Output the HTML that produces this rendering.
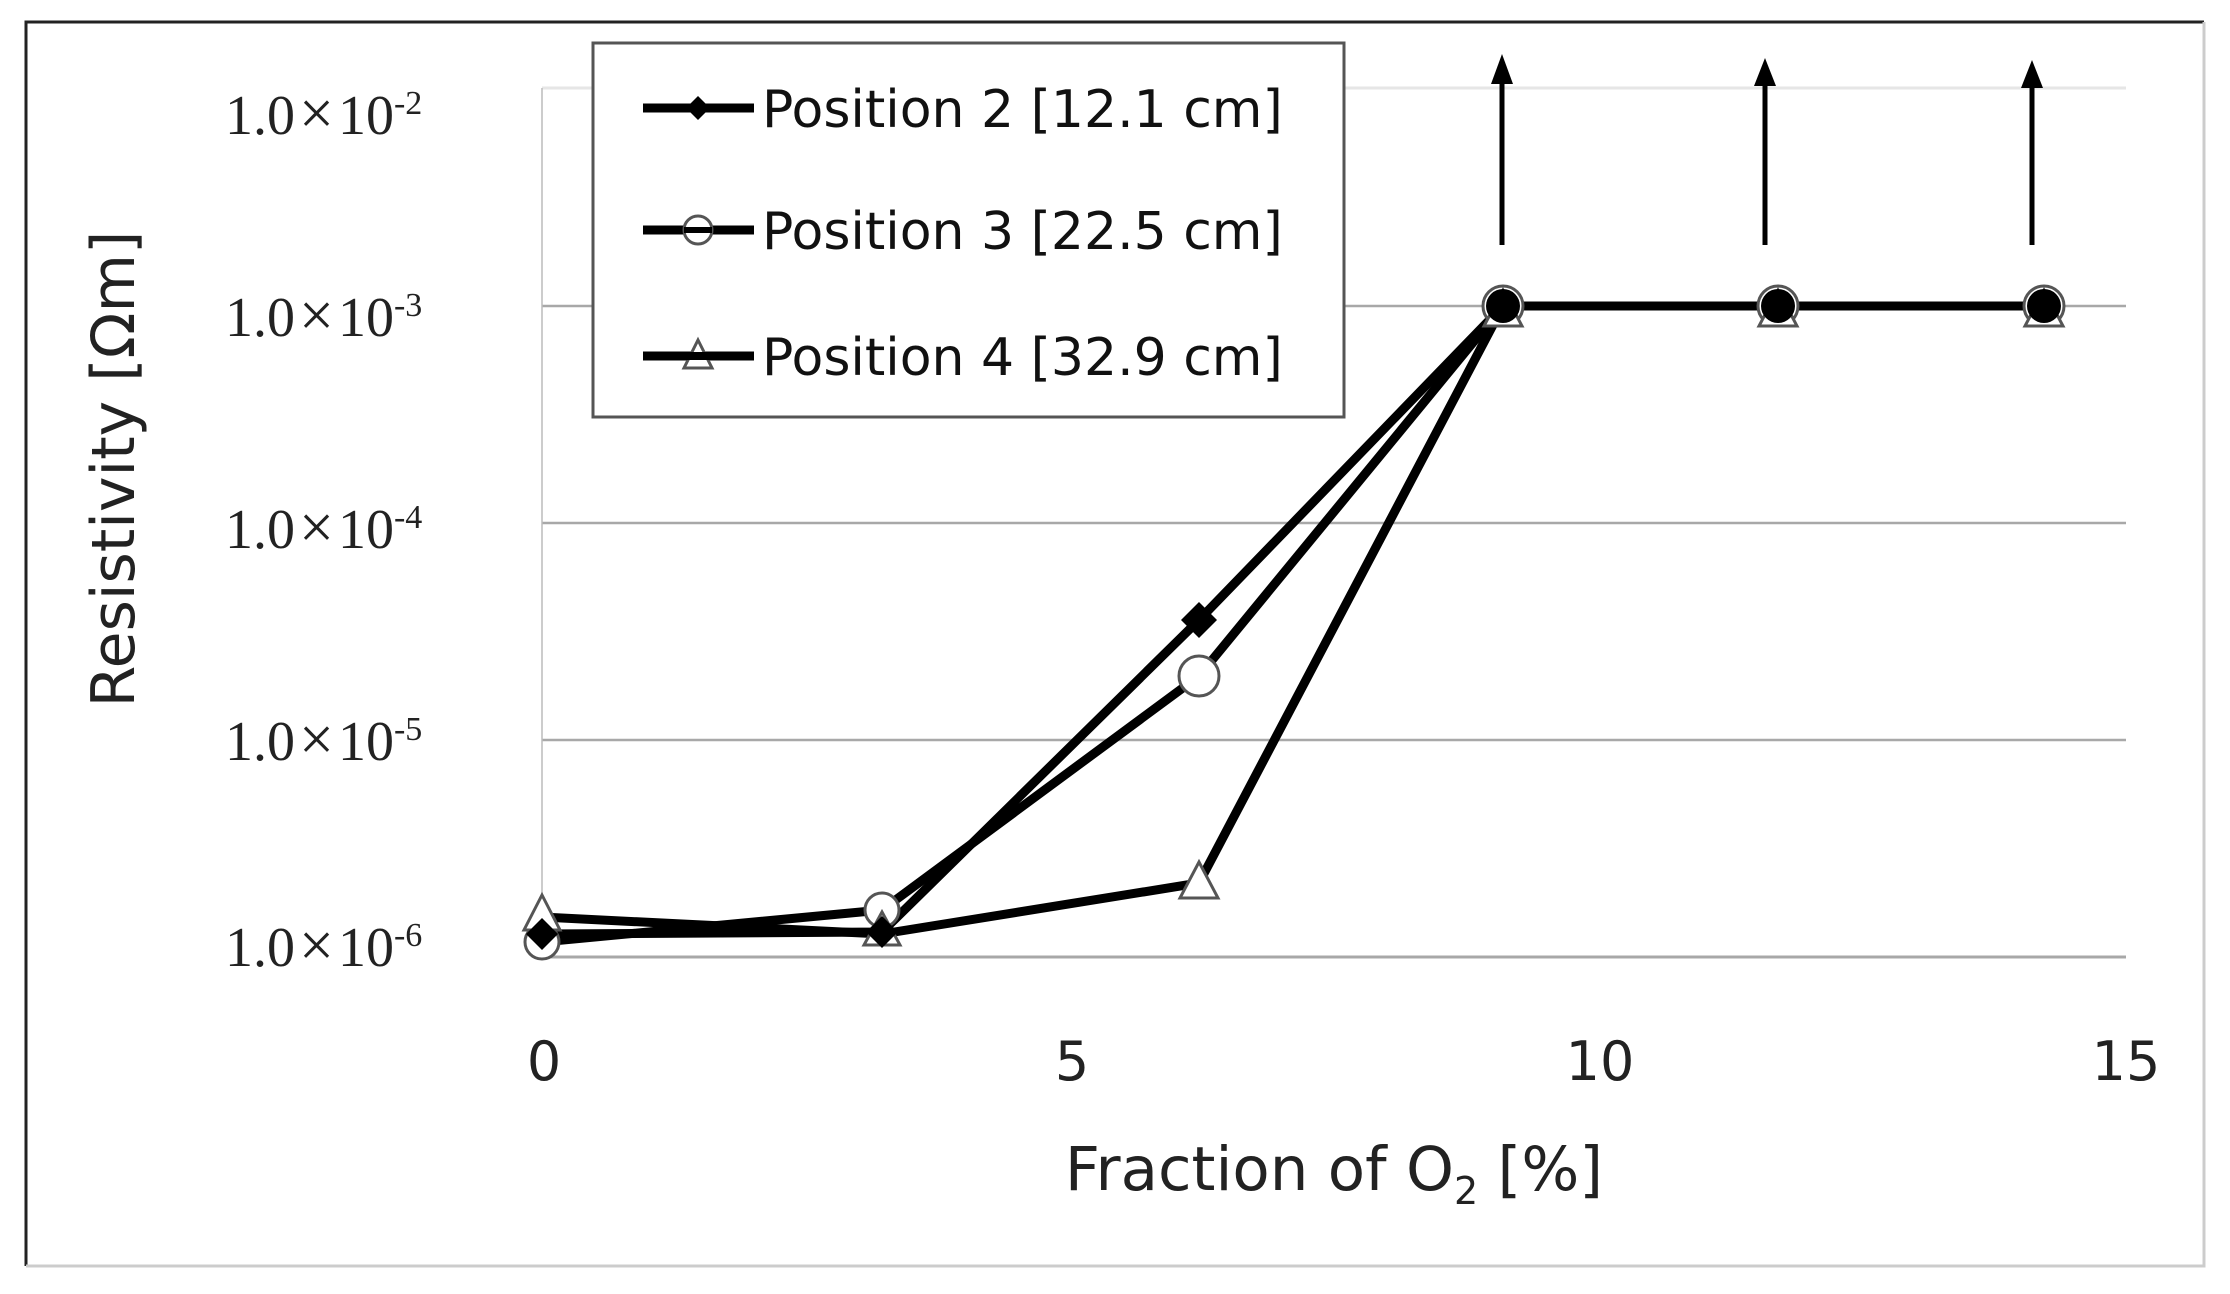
<!DOCTYPE html>
<html><head><meta charset="utf-8"><style>
html,body{margin:0;padding:0;background:#fff;}
svg{display:block;}
</style></head><body>
<svg width="2230" height="1294" viewBox="0 0 2230 1294" xmlns="http://www.w3.org/2000/svg">
<rect x="0" y="0" width="2230" height="1294" fill="#fff"/>
<path d="M26 1266 V22 H2204" fill="none" stroke="#222" stroke-width="3"/>
<path d="M2204 22 V1266 H26" fill="none" stroke="#ccc" stroke-width="3"/>
<line x1="542" y1="88" x2="2126" y2="88" stroke="#e6e6e6" stroke-width="3"/>
<line x1="542" y1="306" x2="2126" y2="306" stroke="#a8a8a8" stroke-width="2.5"/>
<line x1="542" y1="523" x2="2126" y2="523" stroke="#a8a8a8" stroke-width="2.5"/>
<line x1="542" y1="740" x2="2126" y2="740" stroke="#a8a8a8" stroke-width="2.5"/>
<line x1="542" y1="957" x2="2126" y2="957" stroke="#a8a8a8" stroke-width="3"/>
<line x1="542" y1="88" x2="542" y2="957" stroke="#bbb" stroke-width="1.5"/>
<g font-family="Liberation Serif, serif" font-size="56" fill="#222">
<text x="225" y="134">1.0<tspan font-size="62" dx="4">×</tspan><tspan dx="4">10</tspan><tspan font-size="34" dy="-20">-2</tspan></text>
<text x="225" y="336">1.0<tspan font-size="62" dx="4">×</tspan><tspan dx="4">10</tspan><tspan font-size="34" dy="-20">-3</tspan></text>
<text x="225" y="548">1.0<tspan font-size="62" dx="4">×</tspan><tspan dx="4">10</tspan><tspan font-size="34" dy="-20">-4</tspan></text>
<text x="225" y="760">1.0<tspan font-size="62" dx="4">×</tspan><tspan dx="4">10</tspan><tspan font-size="34" dy="-20">-5</tspan></text>
<text x="225" y="966">1.0<tspan font-size="62" dx="4">×</tspan><tspan dx="4">10</tspan><tspan font-size="34" dy="-20">-6</tspan></text>
</g>
<g font-family="DejaVu Sans, sans-serif" font-size="54" fill="#222" text-anchor="middle">
<text x="544" y="1080">0</text>
<text x="1072" y="1080">5</text>
<text x="1600" y="1080">10</text>
<text x="2126" y="1080">15</text>
</g>
<text x="1334" y="1190" font-family="DejaVu Sans, sans-serif" font-size="61" fill="#222" text-anchor="middle">Fraction of O<tspan font-size="38" dy="14">2</tspan><tspan dy="-14"> [%]</tspan></text>
<text transform="translate(134,469) rotate(-90)" font-family="DejaVu Sans, sans-serif" font-size="60" fill="#222" text-anchor="middle">Resistivity [Ωm]</text>
<g fill="none" stroke="#000" stroke-width="9" stroke-linejoin="round">
<polyline points="542,934 882,932 1199,620 1503,306 1778,306 2044,306"/>
<polyline points="542,942 882,910 1199,676 1503,306 1778,306 2044,306"/>
<polyline points="542,917 882,934 1199,883 1503,306 1778,306 2044,306"/>
</g>
<g fill="#fff" stroke="#555" stroke-width="3">
<circle cx="542" cy="942" r="17"/>
<circle cx="882" cy="910" r="17"/>
<circle cx="1199" cy="676" r="20"/>
<polygon points="542,895 560,930 524,930"/>
<polygon points="882,912 900,945 864,945"/>
<polygon points="1199,862 1218,898 1180,898"/>
<circle cx="1503" cy="306" r="20"/>
<circle cx="1778" cy="306" r="20"/>
<circle cx="2044" cy="306" r="20"/>
<polygon points="1503,290 1522,326 1484,326"/>
<polygon points="1778,290 1797,326 1759,326"/>
<polygon points="2044,290 2063,326 2025,326"/>
</g>
<g fill="#000">
<polygon points="542,918 558,934 542,950 526,934"/>
<polygon points="882,916 898,932 882,948 866,932"/>
<polygon points="1199,602 1217,620 1199,638 1181,620"/>
<circle cx="1503" cy="306" r="17"/>
<circle cx="1778" cy="306" r="17"/>
<circle cx="2044" cy="306" r="17"/>
</g>
<g stroke="#000" stroke-width="5">
<line x1="1502" y1="245" x2="1502" y2="80"/>
<line x1="1765" y1="245" x2="1765" y2="82"/>
<line x1="2032" y1="245" x2="2032" y2="84"/>
</g>
<g fill="#000">
<polygon points="1502,54 1513,84 1491,84"/>
<polygon points="1765,58 1776,86 1754,86"/>
<polygon points="2032,60 2043,88 2021,88"/>
</g>
<rect x="593" y="43" width="751" height="374" fill="#fff" stroke="#555" stroke-width="3"/>
<g stroke="#000" stroke-width="9">
<line x1="643" y1="108" x2="754" y2="108"/>
<line x1="643" y1="230" x2="754" y2="230"/>
<line x1="643" y1="356" x2="754" y2="356"/>
</g>
<polygon points="698,96 710,108 698,120 686,108" fill="#000"/>
<circle cx="698" cy="230" r="14" fill="#fff" stroke="#555" stroke-width="3"/>
<line x1="684" y1="230" x2="712" y2="230" stroke="#000" stroke-width="6"/>
<polygon points="698,340 712,368 684,368" fill="#fff" stroke="#555" stroke-width="3"/>
<line x1="684" y1="356" x2="712" y2="356" stroke="#000" stroke-width="8"/>
<g font-family="DejaVu Sans, sans-serif" font-size="52" fill="#111">
<text x="762" y="127">Position 2 [12.1 cm]</text>
<text x="762" y="249">Position 3 [22.5 cm]</text>
<text x="762" y="375">Position 4 [32.9 cm]</text>
</g>
</svg>
</body></html>
